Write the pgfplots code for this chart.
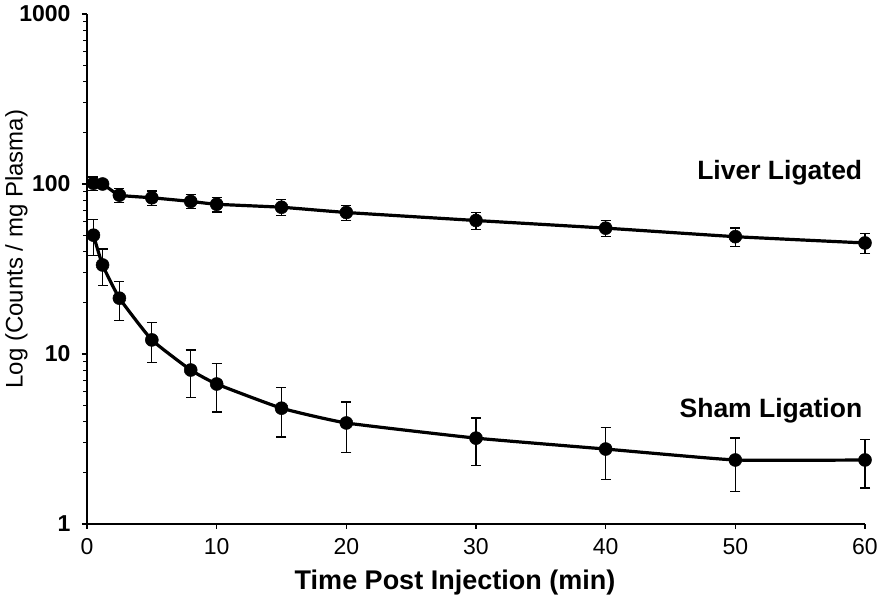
\documentclass[border=0pt]{standalone}
\usepackage{pgfplots}
\pgfplotsset{compat=1.18}
\usepackage{fontspec}
\setmainfont{Liberation Sans}
\pgfplotsset{
  series/.style={black, line width=3.2pt, mark=*, mark size=6.5pt,
    mark options={solid, fill=black, line width=0.5pt}, smooth, tension=0.25,
    error bars/y dir=both, error bars/y explicit,
    error bars/error bar style={line width=1.3pt},
    error bars/error mark options={rotate=90, mark size=5pt, line width=1.3pt}},
}
\begin{document}
\begin{tikzpicture}
\begin{axis}[name=ax, scale only axis, width=778pt, height=510pt,
  ymode=log, xmin=0, xmax=60, ymin=1, ymax=1000,
  axis lines=left, axis line style={line width=1.3pt, -},
  xtick={0,10,20,30,40,50,60}, xticklabels={0,10,20,30,40,50,60},
  ytick={1,10,100,1000}, yticklabels={1,10,100,1000},
  tick align=outside, major tick length=5pt, minor tick length=3.5pt,
  tick style={line width=1.1pt, black},
  xticklabel style={font=\fontsize{23}{23}\selectfont, yshift=-6pt},
  yticklabel style={font=\bfseries\fontsize{23}{23}\selectfont, xshift=-8pt},
  xlabel={Time Post Injection (min)},
  xlabel style={font=\bfseries\fontsize{27}{27}\selectfont,
    at={(axis description cs:0.473,-0.1157)}, anchor=center},
  ylabel={Log (Counts / mg Plasma)},
  ylabel style={font=\fontsize{24}{24}\selectfont,
    at={(axis description cs:-0.0906,0.539)}, anchor=center},
  clip=false,
]
\addplot[series] table[x=t, y=v, y error=e] {
t    v     e
0.5  101   9
1.2  100   4
2.5  86    8
5    83    8
8    79    7.5
10   76    7.5
15   73    8
20   68    7
30   61    7
40   55    6
50   49    6
60   45    6
};
\addplot[series] table[x=t, y=v, y error=e] {
t    v     e
0.5  50    12
1.2  33.4  8
2.5  21.3  5.5
5    12.1  3.2
8    8.05  2.5
10   6.66  2.1
15   4.8   1.55
20   3.93  1.3
30   3.2   1.0
40   2.76  0.93
50   2.38  0.83
60   2.38  0.75
};
\node[anchor=east, font=\bfseries\fontsize{26.5}{26.5}\selectfont, inner sep=0pt] at (axis cs:59.8,116) {Liver Ligated};
\node[anchor=east, font=\bfseries\fontsize{26.5}{26.5}\selectfont, inner sep=0pt] at (axis cs:59.8,4.65) {Sham Ligation};
\end{axis}
\pgfresetboundingbox
\path[use as bounding box] (ax.south west) ++(-87pt,-76pt) rectangle ++(879pt,600pt);
\end{tikzpicture}
\end{document}
